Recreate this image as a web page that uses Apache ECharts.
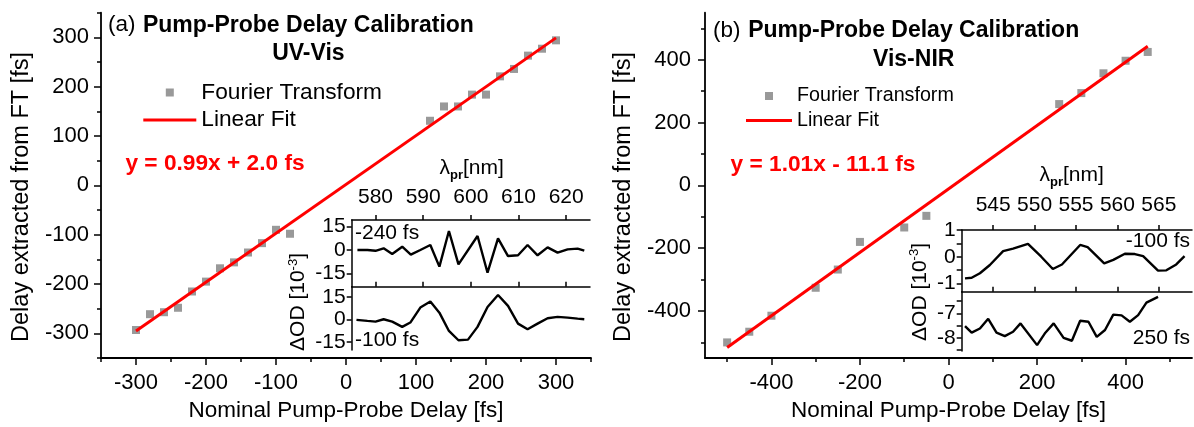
<!DOCTYPE html>
<html>
<head>
<meta charset="utf-8">
<script src="https://cdn.jsdelivr.net/npm/echarts@6/dist/echarts.min.js"></script>
<style>
  html, body { margin: 0; padding: 0; background: #fff; }
  #chart { width: 1194px; height: 427px; }
</style>
</head>
<body>
<div id="chart"></div>
<script>
// ---- Panel (a): UV-Vis delay calibration ----
const nominalDelayA = [-300, -280, -260, -240, -220, -200, -180, -160, -140, -120, -100, -80,
                       120, 140, 160, 180, 200, 220, 240, 260, 280, 300];
const ftDelayA = [-293, -261, -257, -248, -215, -195, -168, -156, -136, -117, -90, -98,
                  131, 160, 160, 184, 184, 221, 236, 263, 277, 294];
const fitSlopeA = 0.99;
const fitInterceptA = 2.0;

// ---- Panel (b): Vis-NIR delay calibration ----
const nominalDelayB = [-500, -450, -400, -300, -250, -200, -100, -50, 250, 300, 350, 400, 450];
const ftDelayB = [-500, -466, -415, -326, -268, -180, -134, -97, 259, 294, 357, 397, 425];
const fitSlopeB = 1.01;
const fitInterceptB = -11.1;

// ---- Inset (a): transient spectra, ΔOD in 10^-3 ----
const lambdaA_early = [576.2, 578.3, 580.0, 581.7, 583.5, 585.6, 587.4, 589.4, 591.5, 593.4, 595.4, 597.4,
                       601.4, 603.5, 605.7, 607.8, 609.9, 611.9, 614.0, 616.1, 618.2, 620.3, 622.4, 623.8];
const odA_early = [0, 0, -0.5, 1.1, -2.6, 2.1, -3.0, 0.0, 3.2, -10.7, 12.2, -9.2,
                   9.0, -14.6, 7.5, -3.9, -3.4, 3.2, -3.4, 1.7, -1.7, 0.4, 0.9, -0.4];
const lambdaA_late = [576.0, 578.3, 580.0, 581.7, 583.5, 585.6, 587.3, 589.4, 591.5, 593.4, 595.4, 597.4, 599.4,
                      601.4, 603.5, 605.7, 607.8, 609.9, 611.9, 614.0, 616.1, 618.2, 620.3, 622.4, 623.8];
const odA_late = [-0.4, -1.1, -1.6, 0.0, -1.6, -5.1, -2.2, 7.8, 11.8, 4.4, -7.8, -14.0, -13.6,
                  -5.1, 8.2, 16.2, 8.9, -2.9, -6.7, -2.9, 0.7, 1.6, 1.1, 0.4, 0.0];

// ---- Inset (b): transient spectra, ΔOD in 10^-3 ----
const lambdaB_early = [541.6, 542.4, 543.4, 544.6, 546.2, 547.4, 549.2, 550.8, 552.2, 553.3, 555.5,
                       556.4, 558.4, 559.5, 560.9, 562.1, 563.1, 564.9, 565.9, 567.1, 568.1];
const odB_early = [-0.81, -0.79, -0.62, -0.31, 0.21, 0.30, 0.48, 0.0, -0.46, -0.29, 0.44,
                   0.36, -0.25, -0.12, 0.11, 0.10, 0.02, -0.52, -0.51, -0.29, 0.02];
const lambdaB_late = [541.6, 542.4, 543.4, 544.4, 545.4, 546.4, 547.4, 548.3, 550.3, 551.3, 552.3, 553.5,
                      554.5, 555.5, 556.5, 557.5, 558.5, 559.5, 560.5, 561.5, 562.5, 563.5, 564.9];
const odB_late = [-7.52, -7.79, -7.62, -7.22, -7.79, -7.93, -7.75, -7.41, -8.30, -7.79, -7.41, -8.00,
                  -8.12, -7.30, -7.34, -7.96, -7.68, -7.05, -7.08, -7.34, -7.07, -6.56, -6.32];

// ---- Tick positions ----
const mainTicksA = [-300, -200, -100, 0, 100, 200, 300];
const minorTicksA = [-350, -250, -150, -50, 50, 150, 250, 350];
const mainTicksB = [-400, -200, 0, 200, 400];
const minorTicksB = [-500, -300, -100, 100, 300, 500];
const lambdaTicksA = [580, 590, 600, 610, 620];
const lambdaTicksB = [545, 550, 555, 560, 565];
const odTicksA = [-15, 0, 15];
const odTicksB_early = [-1, -0.5, 0, 0.5, 1];
const odLabelsB_early = [-1, 0, 1];
const odTicksB_late = [-8.5, -8, -7.5, -7, -6.5];
const odLabelsB_late = [-8, -7];

const FONT = "'Liberation Sans', Arial, sans-serif";
const BLACK = '#000';

// legend glyphs: a small square centred in the key slot, and a thick red bar
const squareKeyA = 'path://M0,0M53,8M22.5,0H30.5V8H22.5Z';
const squareKeyB = 'path://M0,0M46,8M19,0H27V8H19Z';
const barKeyA = 'path://M0,0H53V3H0Z';
const barKeyB = 'path://M0,0H46V3H0Z';

function pair(xs, ys) { return xs.map((x, i) => [x, ys[i]]); }
function fitLine(xs, slope, intercept) {
  const lo = Math.min(...xs), hi = Math.max(...xs);
  return [[lo, slope * lo + intercept], [hi, slope * hi + intercept]];
}

function axisBase(gridIndex, min, max, opts) {
  return Object.assign({
    type: 'value', gridIndex, min, max,
    splitLine: { show: false },
    axisLine: { show: true, onZero: false, lineStyle: { color: BLACK, width: 1.8 } },
    axisTick: { show: true, inside: false, length: 7, lineStyle: { color: BLACK, width: 1.5 } },
    axisLabel: { show: true, color: BLACK, fontFamily: FONT, fontSize: 22 }
  }, opts);
}
function tickOnly(gridIndex, min, max, position, ticks, len) {
  return {
    type: 'value', gridIndex, min, max, position,
    splitLine: { show: false },
    axisLine: { show: false, onZero: false },
    axisLabel: { show: false },
    axisTick: { show: true, length: len, customValues: ticks, lineStyle: { color: BLACK, width: 1.5 } }
  };
}
function insetX(gridIndex, min, max, ticks, withLabels, margin) {
  return axisBase(gridIndex, min, max, {
    position: 'top',
    axisLine: { show: true, onZero: false, lineStyle: { color: BLACK, width: 1.5 } },
    axisTick: { show: true, length: 5, customValues: ticks, lineStyle: { color: BLACK, width: 1.5 } },
    axisLabel: withLabels
      ? { color: BLACK, fontFamily: FONT, fontSize: 21, margin, customValues: ticks }
      : { show: false }
  });
}
function insetY(gridIndex, min, max, ticks, labels) {
  return axisBase(gridIndex, min, max, {
    position: 'left',
    axisLine: { show: true, onZero: false, lineStyle: { color: BLACK, width: 1.5 } },
    axisTick: { show: true, length: 5, customValues: ticks, lineStyle: { color: BLACK, width: 1.5 } },
    axisLabel: { color: BLACK, fontFamily: FONT, fontSize: 21, margin: 6, customValues: labels }
  });
}

const chart = echarts.init(document.getElementById('chart'), null, { renderer: 'canvas' });

const option = {
  animation: false,
  backgroundColor: '#fff',
  grid: [
    { left: 101, top: 12.7, width: 490, height: 345.6 },     // main (a)
    { left: 705, top: 12.7, width: 487, height: 345.6 },     // main (b)
    { left: 351.7, top: 220, width: 238.3, height: 66.7 },   // inset (a) upper
    { left: 351.7, top: 286.7, width: 238.3, height: 63.3 }, // inset (a) lower
    { left: 961.7, top: 230, width: 230.3, height: 61.7 },   // inset (b) upper
    { left: 961.7, top: 291.7, width: 230.3, height: 59.3 }  // inset (b) lower
  ],
  xAxis: [
    axisBase(0, -350, 350, {
      position: 'bottom',
      name: 'Nominal Pump-Probe Delay [fs]', nameLocation: 'middle', nameGap: 38,
      nameTextStyle: { color: BLACK, fontFamily: FONT, fontSize: 22.5 },
      axisTick: { show: true, length: 7, customValues: mainTicksA, lineStyle: { color: BLACK, width: 1.5 } },
      axisLabel: { color: BLACK, fontFamily: FONT, fontSize: 22, margin: 14, customValues: mainTicksA }
    }),
    tickOnly(0, -350, 350, 'bottom', minorTicksA, 4),
    axisBase(1, -550, 550, {
      position: 'bottom',
      name: 'Nominal Pump-Probe Delay [fs]', nameLocation: 'middle', nameGap: 39,
      nameTextStyle: { color: BLACK, fontFamily: FONT, fontSize: 22.5 },
      axisTick: { show: true, length: 7, customValues: mainTicksB, lineStyle: { color: BLACK, width: 1.5 } },
      axisLabel: { color: BLACK, fontFamily: FONT, fontSize: 22, margin: 14, customValues: mainTicksB }
    }),
    tickOnly(1, -550, 550, 'bottom', minorTicksB, 4),
    insetX(2, 575, 625, lambdaTicksA, true, 12),
    insetX(3, 575, 625, lambdaTicksA, false),
    insetX(4, 541.2, 569, lambdaTicksB, true, 14),
    insetX(5, 541.2, 569, lambdaTicksB, false)
  ],
  yAxis: [
    axisBase(0, -350, 350, {
      position: 'left',
      axisTick: { show: true, length: 7, customValues: mainTicksA, lineStyle: { color: BLACK, width: 1.5 } },
      axisLabel: { color: BLACK, fontFamily: FONT, fontSize: 22, margin: 12, customValues: mainTicksA }
    }),
    tickOnly(0, -350, 350, 'left', minorTicksA, 4),
    axisBase(1, -550, 550, {
      position: 'left',
      axisTick: { show: true, length: 7, customValues: mainTicksB, lineStyle: { color: BLACK, width: 1.5 } },
      axisLabel: { color: BLACK, fontFamily: FONT, fontSize: 22, margin: 14, customValues: mainTicksB }
    }),
    tickOnly(1, -550, 550, 'left', minorTicksB, 4),
    insetY(2, -23.6, 19.3, odTicksA, odTicksA),
    insetY(3, -20.5, 21.7, odTicksA, odTicksA),
    insetY(4, -1.31, 1, odTicksB_early, odLabelsB_early),
    insetY(5, -8.54, -6.11, odTicksB_late, odLabelsB_late)
  ],
  legend: [
    { left: 143.3, top: 81, padding: 0, orient: 'vertical', selectedMode: false,
      itemWidth: 53, itemHeight: 8, data: [{ name: 'Fourier Transform', icon: squareKeyA }],
      textStyle: { color: BLACK, fontFamily: FONT, fontSize: 22.7 } },
    { left: 143.3, top: 108.5, padding: 0, orient: 'vertical', selectedMode: false,
      itemWidth: 53, itemHeight: 3, data: [{ name: 'Linear Fit', icon: barKeyA }],
      textStyle: { color: BLACK, fontFamily: FONT, fontSize: 22.7 } },
    { left: 746, top: 86, padding: 0, orient: 'vertical', selectedMode: false,
      itemWidth: 46, itemHeight: 8, data: [{ name: 'Fourier Transform', icon: squareKeyB }],
      textStyle: { color: BLACK, fontFamily: FONT, fontSize: 19.7 } },
    { left: 746, top: 110.5, padding: 0, orient: 'vertical', selectedMode: false,
      itemWidth: 46, itemHeight: 3, data: [{ name: 'Linear Fit', icon: barKeyB }],
      textStyle: { color: BLACK, fontFamily: FONT, fontSize: 19.7 } }
  ],
  series: [
    { name: 'Fourier Transform', type: 'scatter', xAxisIndex: 0, yAxisIndex: 0,
      symbol: 'rect', symbolSize: 8, itemStyle: { color: '#808080' }, z: 3,
      data: pair(nominalDelayA, ftDelayA) },
    { name: 'Linear Fit', type: 'line', xAxisIndex: 0, yAxisIndex: 0, symbol: 'none',
      lineStyle: { color: '#ff0000', width: 3 }, itemStyle: { color: '#ff0000' }, z: 4,
      data: fitLine(nominalDelayA, fitSlopeA, fitInterceptA) },
    { name: 'Fourier Transform', type: 'scatter', xAxisIndex: 2, yAxisIndex: 2,
      symbol: 'rect', symbolSize: 8, itemStyle: { color: '#808080' }, z: 3,
      data: pair(nominalDelayB, ftDelayB) },
    { name: 'Linear Fit', type: 'line', xAxisIndex: 2, yAxisIndex: 2, symbol: 'none',
      lineStyle: { color: '#ff0000', width: 3 }, itemStyle: { color: '#ff0000' }, z: 4,
      data: fitLine(nominalDelayB, fitSlopeB, fitInterceptB) },
    { name: '-240 fs', type: 'line', xAxisIndex: 4, yAxisIndex: 4, symbol: 'none',
      lineStyle: { color: BLACK, width: 2.4 }, data: pair(lambdaA_early, odA_early) },
    { name: '-100 fs (a)', type: 'line', xAxisIndex: 5, yAxisIndex: 5, symbol: 'none',
      lineStyle: { color: BLACK, width: 2.4 }, data: pair(lambdaA_late, odA_late) },
    { name: '-100 fs (b)', type: 'line', xAxisIndex: 6, yAxisIndex: 6, symbol: 'none',
      lineStyle: { color: BLACK, width: 2.4 }, data: pair(lambdaB_early, odB_early) },
    { name: '250 fs', type: 'line', xAxisIndex: 7, yAxisIndex: 7, symbol: 'none',
      lineStyle: { color: BLACK, width: 2.4 }, data: pair(lambdaB_late, odB_late) }
  ],
  graphic: [
    // y-axis titles of both main panels
    { type: 'text', x: 22, y: 197, rotation: Math.PI / 2,
      style: { text: 'Delay extracted from FT [fs]', font: `23.5px ${FONT}`, fill: BLACK, align: 'center', verticalAlign: 'middle' } },
    { type: 'text', x: 624, y: 197, rotation: Math.PI / 2,
      style: { text: 'Delay extracted from FT [fs]', font: `23.5px ${FONT}`, fill: BLACK, align: 'center', verticalAlign: 'middle' } },
    // panel titles
    { type: 'text', x: 108, y: 25, style: { text: '(a)', font: `22.5px ${FONT}`, fill: BLACK, verticalAlign: 'middle' } },
    { type: 'text', x: 308.4, y: 39.5, style: { text: 'Pump-Probe Delay Calibration\nUV-Vis', font: `bold 23px ${FONT}`,
        lineHeight: 28.5, fill: BLACK, align: 'center', verticalAlign: 'middle' } },
    { type: 'text', x: 713, y: 30.7, style: { text: '(b)', font: `22.5px ${FONT}`, fill: BLACK, verticalAlign: 'middle' } },
    { type: 'text', x: 913.7, y: 45, style: { text: 'Pump-Probe Delay Calibration\nVis-NIR', font: `bold 23px ${FONT}`,
        lineHeight: 28.6, fill: BLACK, align: 'center', verticalAlign: 'middle' } },
    // fit equations
    { type: 'text', x: 215, y: 164, style: { text: 'y = ' + fitSlopeA.toFixed(2) + 'x + ' + fitInterceptA.toFixed(1) + ' fs',
        font: `bold 22.7px ${FONT}`, fill: '#ff0000', align: 'center', verticalAlign: 'middle' } },
    { type: 'text', x: 823, y: 164.3, style: { text: 'y = ' + fitSlopeB.toFixed(2) + 'x - ' + Math.abs(fitInterceptB).toFixed(1) + ' fs',
        font: `bold 22.7px ${FONT}`, fill: '#ff0000', align: 'center', verticalAlign: 'middle' } },
    // inset annotations (a)
    { type: 'text', x: 471.7, y: 168, style: { text: '{n|λ}{s|pr}{n|[nm]}', align: 'center', verticalAlign: 'middle',
        rich: { n: { font: `21px ${FONT}`, fill: BLACK, lineHeight: 28 },
                s: { font: `bold 13px ${FONT}`, fill: BLACK, lineHeight: 12, verticalAlign: 'bottom' } } } },
    { type: 'text', x: 355, y: 233.3, style: { text: '-240 fs', font: `21px ${FONT}`, fill: BLACK, verticalAlign: 'middle' } },
    { type: 'text', x: 355, y: 340, style: { text: '-100 fs', font: `21px ${FONT}`, fill: BLACK, verticalAlign: 'middle' } },
    { type: 'text', x: 298.5, y: 302, rotation: Math.PI / 2,
      style: { text: '{n|ΔOD [10}{s|-3}{n|]}', align: 'center', verticalAlign: 'middle',
        rich: { n: { font: `21px ${FONT}`, fill: BLACK, lineHeight: 24 },
                s: { font: `13px ${FONT}`, fill: BLACK, lineHeight: 12, verticalAlign: 'top' } } } },
    // inset annotations (b)
    { type: 'text', x: 1071.7, y: 175, style: { text: '{n|λ}{s|pr}{n|[nm]}', align: 'center', verticalAlign: 'middle',
        rich: { n: { font: `21px ${FONT}`, fill: BLACK, lineHeight: 28 },
                s: { font: `bold 13px ${FONT}`, fill: BLACK, lineHeight: 12, verticalAlign: 'bottom' } } } },
    { type: 'text', x: 1190, y: 241.7, style: { text: '-100 fs', font: `21px ${FONT}`, fill: BLACK, align: 'right', verticalAlign: 'middle' } },
    { type: 'text', x: 1190, y: 338.3, style: { text: '250 fs', font: `21px ${FONT}`, fill: BLACK, align: 'right', verticalAlign: 'middle' } },
    { type: 'text', x: 920, y: 292, rotation: Math.PI / 2,
      style: { text: '{n|ΔOD [10}{s|-3}{n|]}', align: 'center', verticalAlign: 'middle',
        rich: { n: { font: `21px ${FONT}`, fill: BLACK, lineHeight: 24 },
                s: { font: `13px ${FONT}`, fill: BLACK, lineHeight: 12, verticalAlign: 'top' } } } }
  ]
};

chart.setOption(option);
</script>
</body>
</html>
